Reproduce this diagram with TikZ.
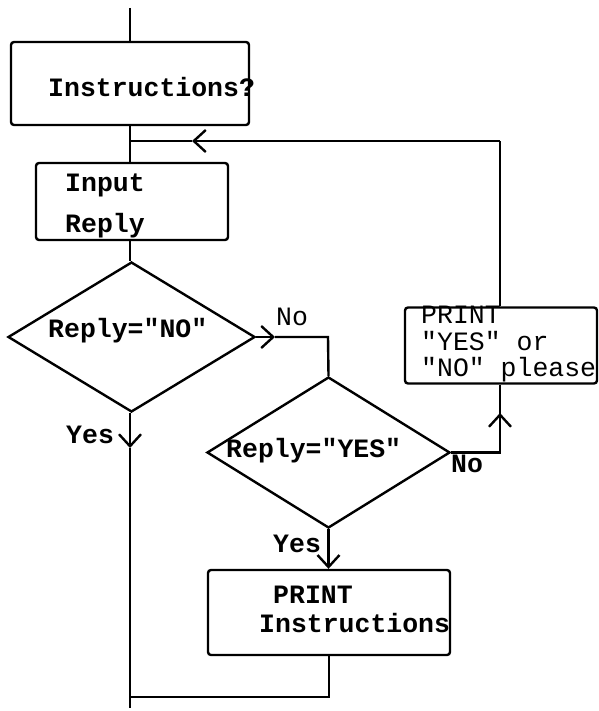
\documentclass[tikz,border=0pt]{standalone}
\usepackage{fontspec}
\newfontfamily\tw{Liberation Mono}
\usetikzlibrary{shapes.geometric,arrows.meta}

\tikzset{
  flow/.style={line width=2.4pt, line join=miter},
  arr/.style={flow, -{Straight Barb[length=12pt,width=22pt]}},
  box/.style={draw, line width=2.4pt, rounded corners=3pt, inner sep=0pt},
  decision/.style={diamond, draw, line width=2.4pt, inner sep=0pt, aspect=1.6},
  txt/.style={font=\tw\bfseries\fontsize{26.5}{28}\selectfont, inner sep=0pt, anchor=base west},
  thin txt/.style={font=\tw\fontsize{26.5}{28}\selectfont, inner sep=0pt, anchor=base west},
}

\begin{document}
\begin{tikzpicture}[x=1pt, y=-1pt]
  \useasboundingbox (0,0) rectangle (598,711);

  % boxes and decisions
  \node[box, minimum width=238pt, minimum height=83pt] (instr) at (130,83.5) {};
  \node[box, minimum width=192pt, minimum height=77pt] (input) at (132,201.5) {};
  \node[decision, minimum width=247pt, minimum height=150pt] (isno) at (131.5,337) {};
  \node[decision, minimum width=243pt, minimum height=151pt] (isyes) at (328.5,452.5) {};
  \node[box, minimum width=242pt, minimum height=85pt] (printi) at (329,612.5) {};
  \node[box, minimum width=192pt, minimum height=76pt] (please) at (501,345.5) {};

  % texts
  \node[txt] (tinstr) at (48,97) {Instructions?};
  \node[txt] (tinput) at (65,192) {Input};
  \node[txt] (treply) at (65,233) {Reply};
  \node[txt] (tisno) at (48,337) {Reply="NO"};
  \node[txt] (tisyes) at (226,457) {Reply="YES"};
  \node[txt] (tprint) at (273,603) {PRINT};
  \node[txt] (tinstrs) at (259,632) {Instructions};
  \node[thin txt] (tp1) at (421,323) {PRINT};
  \node[thin txt] (tp2) at (421,350) {"YES" or};
  \node[thin txt] (tp3) at (421,376) {"NO" please};

  % branch labels
  \node[thin txt] (lno1) at (276,325) {No};
  \node[txt] (lno2) at (451,472) {No};
  \node[txt] (lyes1) at (66,443) {Yes};
  \node[txt] (lyes2) at (273,552) {Yes};

  % junction points
  \coordinate (top) at (130,8);
  \coordinate (join) at (130,141);
  \coordinate (loophead) at (192,141);
  \coordinate (loopright) at (500,141);
  \coordinate (nohead) at (275,337);
  \coordinate (nocorner) at (328,337);
  \coordinate (yeshead) at (130,448);
  \coordinate (merge) at (130,697);
  \coordinate (bottom) at (130,708);
  \coordinate (no2corner) at (500,452.5);
  \coordinate (no2head) at (500,413);

  % main spine
  \draw[flow] (top) -- (top |- instr.north);
  \draw[flow] (join |- instr.south) -- (join);
  \draw[flow] (join) -- (join |- input.north);
  \draw[flow] (join |- input.south) -- (isno.north -| join);
  \draw[arr] (isno.south -| join) -- (yeshead);
  \draw[flow] (yeshead) -- (bottom);

  % "No" branch of the first test
  \draw[arr] (isno.east) -- (nohead);
  \draw[flow] (nohead) -- (nocorner) -- (isyes.north);

  % "Yes" branch of the second test
  \draw[arr] (isyes.south) -- (isyes.south |- printi.north);
  \draw[flow] (printi.south) |- (merge);

  % "No" branch of the second test, looping back to the input
  \draw[flow] (isyes.east) -- (no2corner) -- (no2head);
  \draw[arr] (no2corner) -- (no2head);
  \draw[flow] (no2head) -- (no2head |- please.south);
  \draw[flow] (loopright |- please.north) -- (loopright);
  \draw[arr] (loopright) -- (loophead);
  \draw[flow] (loophead) -- (join);
\end{tikzpicture}
\end{document}
